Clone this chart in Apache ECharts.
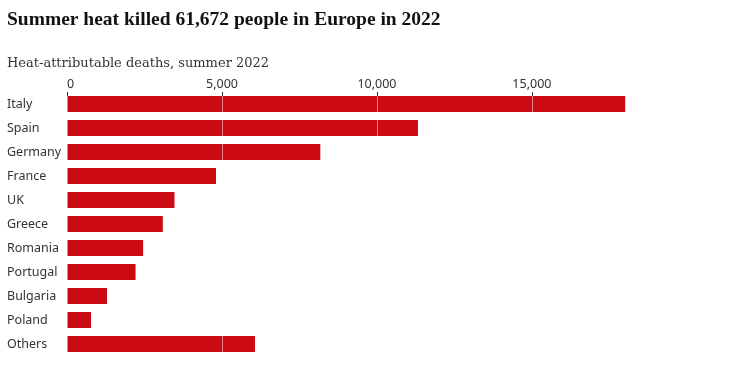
<!DOCTYPE html>
<html><head><meta charset="utf-8">
<script src="https://cdn.jsdelivr.net/npm/echarts@6/dist/echarts.min.js"></script>
<style>html,body{margin:0;padding:0;background:#fff}#c{width:744px;height:368px}</style>
</head><body><div id="c"></div>
<script>
const countries = ['Italy','Spain','Germany','France','UK','Greece','Romania','Portugal','Bulgaria','Poland','Others'];
const deaths = [18010, 11324, 8173, 4807, 3469, 3092, 2455, 2212, 1290, 774, 6066];
const tickValues = [0, 5000, 10000, 15000];
const titleText = 'Summer heat killed 61,672 people in Europe in 2022';
const subtitleText = 'Heat-attributable deaths, summer 2022';

const chart = echarts.init(document.getElementById('c'));
chart.setOption({
  animation: false,
  title: {
    text: titleText, subtext: subtitleText, left: 2, top: 5, itemGap: 27,
    textStyle: {fontFamily: 'Liberation Serif', fontWeight: 'bold', fontSize: 19.5, color: '#121212'},
    subtextStyle: {fontFamily: 'DejaVu Serif', fontSize: 13, color: '#333'}
  },
  grid: {left: 67, right: 116, top: 92, bottom: 12, containLabel: false},
  xAxis: {
    type: 'value', position: 'top', min: 0, max: 18100, z: 5,
    axisLine: {show: false},
    axisTick: {show: true, inside: true, length: 4, lineStyle: {color: '#333'}, customValues: tickValues},
    axisLabel: {customValues: tickValues, margin: 1, color: '#333', fontFamily: 'Noto Sans', fontSize: 12.5,
      alignMinLabel: 'left',
      formatter: v => v.toLocaleString('en-US')},
    splitLine: {show: true, lineStyle: {color: 'rgba(255,255,255,0.5)', width: 1}}
  },
  yAxis: {
    type: 'category', inverse: true, data: countries,
    axisLine: {show: false}, axisTick: {show: false},
    axisLabel: {align: 'left', margin: 60, color: '#333', fontFamily: 'Noto Sans', fontSize: 12.5}
  },
  series: [{
    type: 'bar', data: deaths, barWidth: 16, z: 2,
    itemStyle: {color: '#cc0a11'}
  }]
});
</script></body></html>
